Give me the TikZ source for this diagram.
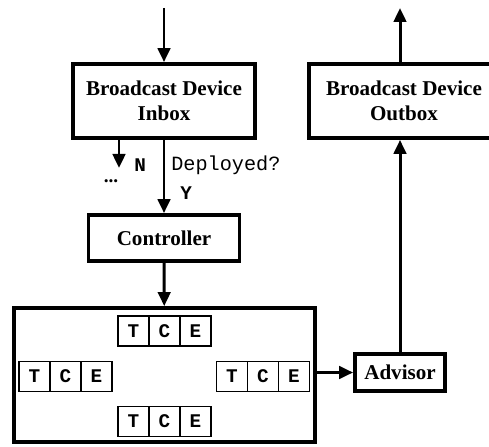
\documentclass[tikz,border=0pt]{standalone}
\usepackage{fontspec}
\setmainfont{Liberation Serif}
\setmonofont{Liberation Mono}
\usetikzlibrary{arrows.meta, positioning}

\tikzset{
  block/.style={draw, line width=2.2pt, align=center, inner sep=0pt,
    font=\fontsize{12}{14.2}\selectfont\bfseries},
  cell/.style={draw, line width=1.1pt, outer sep=0pt, inner sep=0pt,
    minimum width=0.62cm, minimum height=0.6cm,
    font=\fontsize{11}{13}\selectfont\ttfamily\bfseries},
  flow/.style={line width=1.7pt, -{Triangle[length=0.28cm, width=0.25cm]}},
  tag/.style={inner sep=0pt, font=\fontsize{11}{13}\selectfont\ttfamily\bfseries},
  mono/.style={inner sep=0pt, font=\fontsize{11.5}{13}\selectfont\ttfamily},
}

% one T|C|E triple, centred on the given point
\newcommand{\tcetriple}[2]{%
  \node[cell] (#1c) at (#2) {C};
  \node[cell, left=0pt of #1c] (#1t) {T};
  \node[cell, right=0pt of #1c] (#1e) {E};
}

\begin{document}
\begin{tikzpicture}[x=0.02cm, y=0.02cm]
  \useasboundingbox (0,0) rectangle (489,446);

  % device mailboxes
  \node[block, minimum width=3.64cm, minimum height=1.48cm] (inbox) at (164,345) {Broadcast Device\\Inbox};
  \node[block, minimum width=3.8cm, minimum height=1.48cm] (outbox) at (404,345) {Broadcast Device\\Outbox};
  \coordinate (msgin) at (164,438);
  \coordinate (msgout) at (400,438);
  \draw[flow] (msgin) -- (inbox);
  \draw[flow] (outbox.north -| msgout) -- (msgout);

  % deployment check
  \node[block, minimum width=3.02cm, minimum height=0.92cm] (controller) at (164,208) {Controller};
  \draw[flow] (inbox) -- (controller);
  \coordinate (skip) at (119,278);
  \draw[flow] (inbox.south -| skip) -- (skip);
  \node[tag, anchor=west] (no) at (134,281) {N};
  \node[inner sep=0pt, font=\fontsize{11}{13}\selectfont\bfseries] (more) at (111,265) {...};
  \node[mono, anchor=west] (deployed) at (171,281) {Deployed?};
  \node[tag, anchor=west] (yes) at (180,253) {Y};

  % pool of triples
  \node[block, minimum width=6.02cm, minimum height=2.68cm] (pool) at (164.5,71) {};
  \draw[flow] (controller) -- (pool);
  \tcetriple{top}{164.5,115}
  \tcetriple{left}{65.5,69.5}
  \tcetriple{right}{263,69.5}
  \tcetriple{bottom}{164.5,24.5}

  % advisor back to the outbox
  \node[block, minimum width=1.8cm, minimum height=0.74cm] (advisor) at (400,73.5) {Advisor};
  \draw[flow] (pool.east |- advisor) -- (advisor);
  \draw[flow] (advisor) -- (advisor |- outbox.south);
\end{tikzpicture}
\end{document}
